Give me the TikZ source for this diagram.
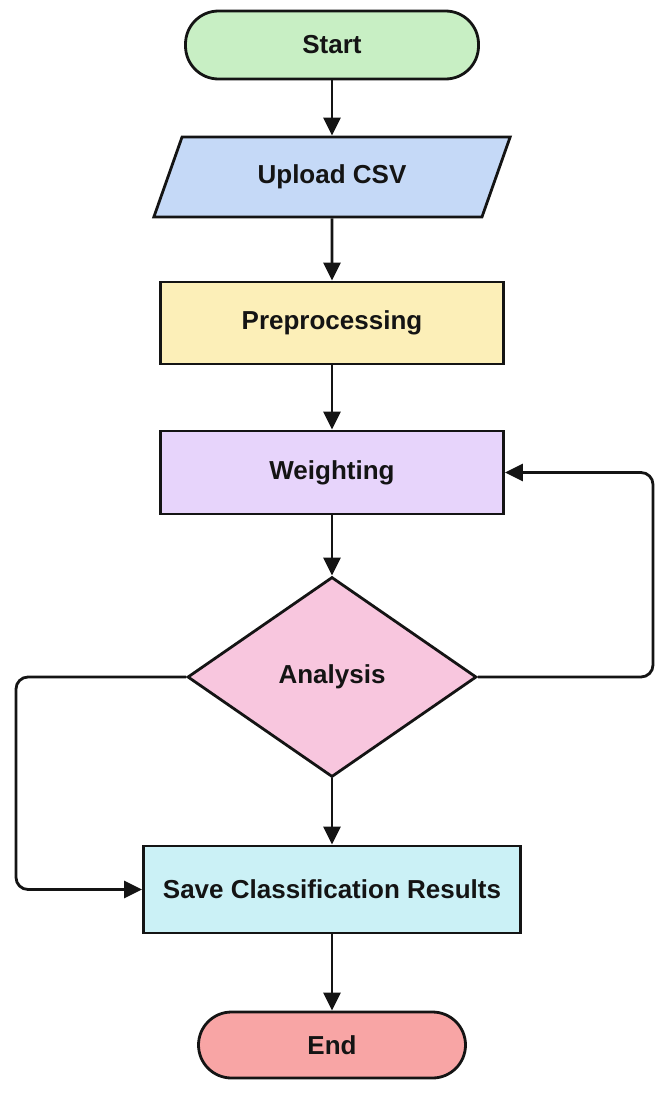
\documentclass[tikz,border=0pt]{standalone}
\usepackage{fontspec}
\setmainfont{Liberation Sans}
\usetikzlibrary{shapes.geometric,arrows.meta}
\definecolor{cstart}{HTML}{C8EFC4}
\definecolor{cup}{HTML}{C5D9F7}
\definecolor{cpre}{HTML}{FCEFB8}
\definecolor{cw}{HTML}{E7D4FB}
\definecolor{cana}{HTML}{F8C6DE}
\definecolor{csave}{HTML}{CBF1F6}
\definecolor{cend}{HTML}{F8A5A5}
\definecolor{ink}{HTML}{141414}
\tikzset{
  base/.style={draw=ink, line width=2.8pt, inner sep=0pt, text=ink,
    font=\fontsize{26}{30}\selectfont\bfseries},
  term/.style={base, rectangle, rounded corners=33pt},
  boxnode/.style={base, rectangle},
  io/.style={base, trapezium, trapezium left angle=60, trapezium right angle=120,
    trapezium stretches=true},
  dec/.style={base, diamond},
  flow/.style={draw=ink, line width=2.8pt, -{Triangle[length=18pt,width=17pt]}},
}
\begin{document}
\begin{tikzpicture}[x=1pt,y=-1pt]
\useasboundingbox[fill=white] (0,0) rectangle (656,1095);
\node[term, fill=cstart, minimum width=293pt, minimum height=68pt] (start) at (332,45) {Start};
\node[io, fill=cup, minimum width=357pt, minimum height=80pt] (up) at (332,177) {Upload CSV};
\node[boxnode, fill=cpre, minimum width=343pt, minimum height=82pt] (pre) at (332,323) {Preprocessing};
\node[boxnode, fill=cw, minimum width=343pt, minimum height=83pt] (w) at (332,472.5) {Weighting};
\node[dec, fill=cana, minimum width=289pt, minimum height=200pt] (ana) at (332,677) {Analysis};
\node[boxnode, fill=csave, minimum width=377pt, minimum height=87pt] (save) at (332,889.5) {Save Classification Results};
\node[term, fill=cend, minimum width=267pt, minimum height=66pt] (end) at (332,1045) {End};
\coordinate (rtop) at (653,472.5);
\coordinate (rbot) at (653,677);
\coordinate (ltop) at (16,677);
\coordinate (lbot) at (16,889.5);
\draw[flow] (start) -- (up);
\draw[flow] (up) -- (pre);
\draw[flow] (pre) -- (w);
\draw[flow] (w) -- (ana);
\draw[flow] (ana) -- (save);
\draw[flow] (save) -- (end);
\draw[flow, rounded corners=12pt] (ana.east) -- (rbot) -- (rtop) -- (w.east);
\draw[flow, rounded corners=12pt] (ana.west) -- (ltop) -- (lbot) -- (save.west);
\end{tikzpicture}
\end{document}
